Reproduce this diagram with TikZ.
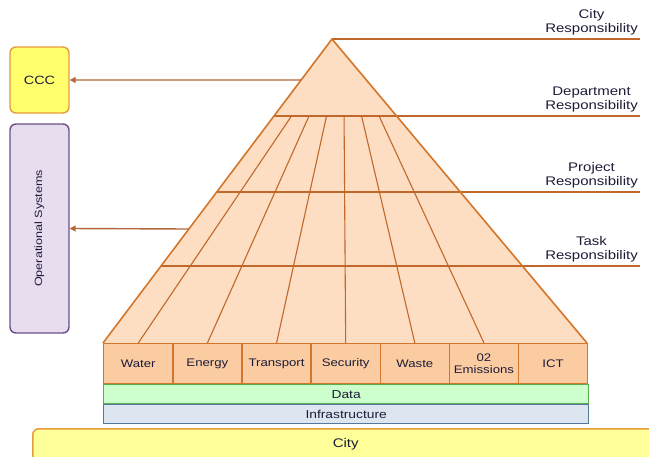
\documentclass[tikz,border=0pt]{standalone}
\usepackage{fontspec}
\setmainfont[FakeStretch=1.2]{Liberation Sans}
\usetikzlibrary{arrows.meta, positioning, calc}

\definecolor{pyrfill}{HTML}{FDDEC3}
\definecolor{secfill}{HTML}{FBCCA2}
\definecolor{pyrline}{HTML}{C0682A}
\definecolor{secline}{HTML}{D4762A}
\definecolor{arrowcol}{HTML}{B5653A}
\definecolor{datafill}{HTML}{CCFFCC}
\definecolor{dataline}{HTML}{5AAE50}
\definecolor{infrafill}{HTML}{DDE6F0}
\definecolor{infraline}{HTML}{56789E}
\definecolor{cityfill}{HTML}{FFFF99}
\definecolor{cityline}{HTML}{E69B3C}
\definecolor{cccfill}{HTML}{FFFF6E}
\definecolor{opsfill}{HTML}{E8DCEF}
\definecolor{opsline}{HTML}{6B4E8E}
\definecolor{inktext}{HTML}{1C1C38}

\begin{document}
\begin{tikzpicture}[
        x=1pt, y=-1pt,
        every node/.style={text=inktext},
        sector/.style={rectangle, draw=secline, fill=secfill, line width=1.4pt, minimum width=69.14pt, minimum height=40pt, inner sep=1pt, align=center, anchor=north west, font=\fontsize{11}{12}\selectfont},
        bar/.style={rectangle, line width=1.3pt, minimum width=485pt, minimum height=19pt, inner sep=0pt, anchor=north west, font=\fontsize{11.5}{12}\selectfont},
        sidebox/.style={rectangle, rounded corners=6pt, line width=1.4pt, minimum width=59pt, inner sep=0pt},
        level/.style={draw=pyrline, line width=1.3pt},
        fan/.style={draw=pyrline, line width=1.1pt},
        lbl/.style={align=center, inner sep=1pt, anchor=south east, font=\fontsize{12.5}{14}\selectfont},
        feed/.style={draw=arrowcol, line width=1.4pt, -{Triangle[length=6pt, width=6pt]}}
    ]
        \useasboundingbox (0,0) rectangle (649,456);

        % Pyramid corners
        \coordinate (apex) at (332,39);
        \coordinate (base_l) at (103,343);
        \coordinate (base_r) at (587,343);
        \coordinate (line_end) at (640,39);

        % Points on the left edge
        \coordinate (ccc_in) at ($(apex)!0.1349!(base_l)$);
        \coordinate (dept_l) at ($(apex)!0.2533!(base_l)$);
        \coordinate (dept_r) at ($(apex)!0.2533!(base_r)$);
        \coordinate (proj_l) at ($(apex)!0.5033!(base_l)$);
        \coordinate (ops_in) at ($(apex)!0.625!(base_l)$);
        \coordinate (task_l) at ($(apex)!0.7467!(base_l)$);

        \fill[pyrfill] (apex) -- (base_r) -- (base_l) -- cycle;

        % Sectors
        \foreach \k/\name in {1/Water, 2/Energy, 3/Transport, 4/Security, 5/Waste, 6/{02\\Emissions}, 7/ICT}
            \node[sector] (sec\k) at (33.86+69.14*\k, 343) {\name};

        % Fan lines
        \foreach \k in {1,...,6}
            \draw[fan] ($(dept_l)!\k/7!(dept_r)$) -- (sec\k.north);

        % Responsibility levels
        \draw[level] (apex) -- (line_end);
        \draw[level] (dept_l) -- (dept_l -| line_end);
        \draw[level] (proj_l) -- (proj_l -| line_end);
        \draw[level] (task_l) -- (task_l -| line_end);
        \draw[secline, line width=1.6pt, line join=round] (base_l) -- (apex) -- (base_r);

        \node[lbl] (city_lbl) at ($(line_end)+(-1,-3)$) {City\\Responsibility};
        \node[lbl] (dept_lbl) at ($(dept_l -| line_end)+(-1,-3)$) {Department\\Responsibility};
        \node[lbl] (proj_lbl) at ($(proj_l -| line_end)+(-1,-3)$) {Project\\Responsibility};
        \node[lbl] (task_lbl) at ($(task_l -| line_end)+(-1,-3)$) {Task\\Responsibility};

        % Layers below
        \node[bar, draw=dataline, fill=datafill] (data_bar) at (103,384) {Data};
        \node[bar, draw=infraline, fill=infrafill] (infra_bar) at (103,404) {Infrastructure};
        \node[rectangle, rounded corners=6pt, draw=cityline, fill=cityfill, line width=1.5pt, minimum width=626pt, minimum height=32pt, anchor=north west, font=\fontsize{12.5}{14}\selectfont] (city_bar) at (32,428) {City};

        % Side boxes
        \node[sidebox, draw=cityline, fill=cccfill, minimum height=66pt, font=\fontsize{12}{14}\selectfont] (ccc_box) at (39.5,80) {CCC};
        \node[sidebox, draw=opsline, fill=opsfill, minimum height=209pt, font=\fontsize{10.5}{12}\selectfont] (ops_box) at (39.5,228.5) {\rotatebox{90}{Operational Systems}};

        % Arrows
        \draw[feed] (ccc_in) -- (ccc_box.east);
        \draw[feed] (ops_in) -- (ops_box.east);

    \end{tikzpicture}
\end{document}
